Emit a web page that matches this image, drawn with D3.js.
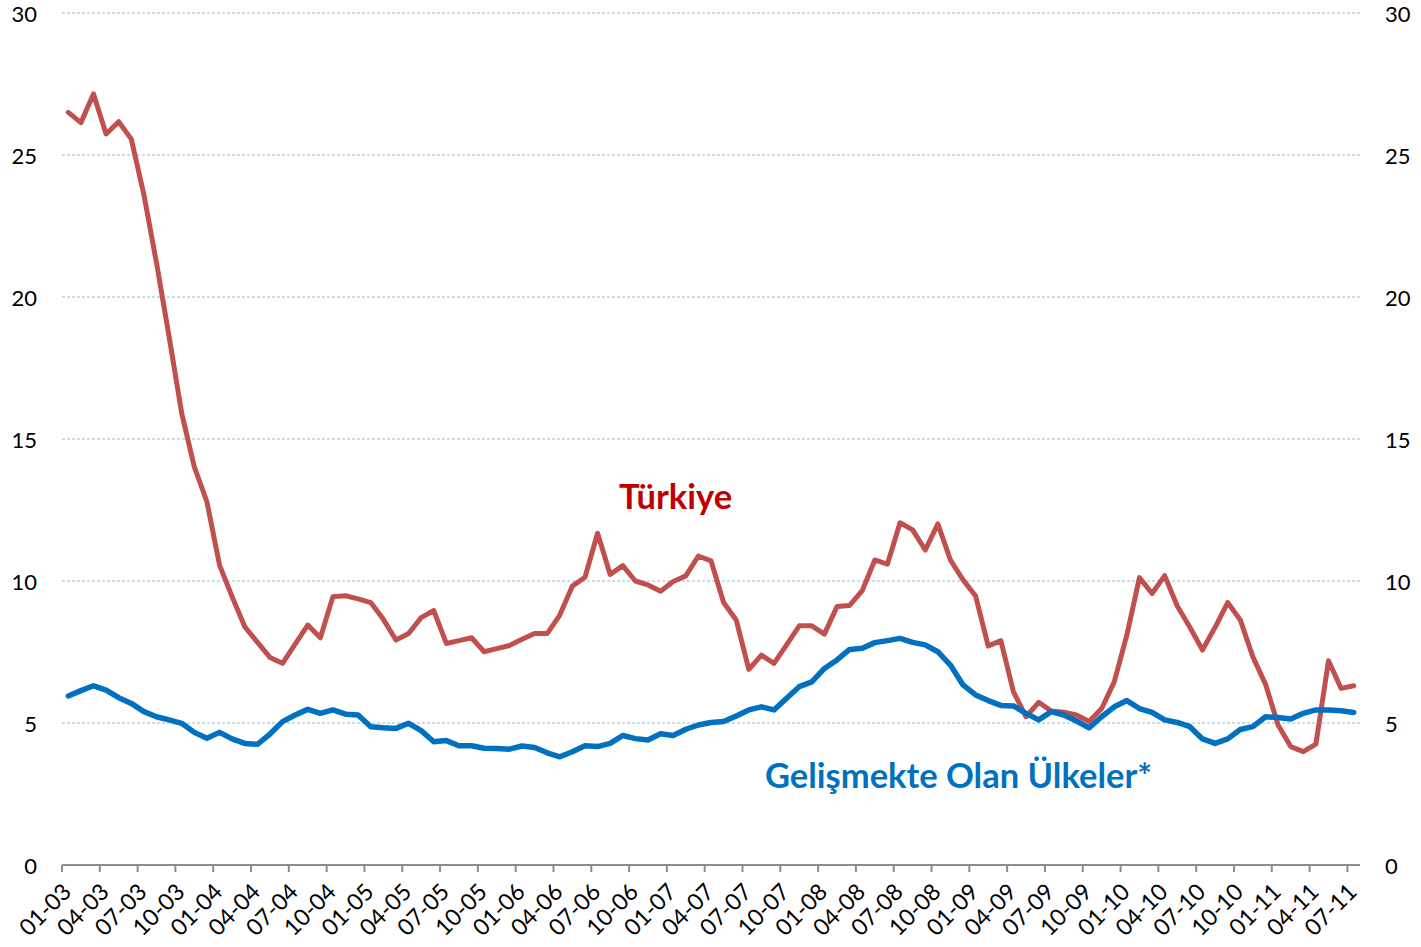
<!DOCTYPE html>
<html>
<head>
<meta charset="utf-8">
<script src="https://cdn.jsdelivr.net/npm/d3@7"></script>
<style>
  body { margin: 0; background: #fff; }
  svg { display: block; }
  text { font-family: Lato, "Open Sans", sans-serif; }
</style>
</head>
<body>
<svg id="chart" width="1421" height="947"></svg>
<script>
// monthly series, 01-03 .. 07-11 (103 months)
const turkiye = [
  26.5, 26.14, 27.15, 25.74, 26.17, 25.56, 23.6, 21.2, 18.6, 15.9, 14.02, 12.79,
  10.56, 9.45, 8.39, 7.85, 7.31, 7.1, 7.78, 8.45, 8.0, 9.45, 9.48, 9.37,
  9.24, 8.65, 7.92, 8.15, 8.71, 8.96, 7.8, 7.9, 8.0, 7.51, 7.62, 7.73,
  7.95, 8.15, 8.15, 8.8, 9.82, 10.13, 11.68, 10.23, 10.54, 10.0, 9.86, 9.64,
  9.98, 10.18, 10.88, 10.71, 9.24, 8.63, 6.89, 7.39, 7.1, 7.75, 8.42, 8.42,
  8.13, 9.1, 9.14, 9.66, 10.74, 10.59, 12.05, 11.8, 11.09, 12.01, 10.74, 10.04,
  9.47, 7.71, 7.9, 6.1, 5.22, 5.73, 5.42, 5.38, 5.28, 5.05, 5.51, 6.45,
  8.1, 10.12, 9.56, 10.19, 9.12, 8.37, 7.57, 8.37, 9.24, 8.63, 7.33, 6.37,
  4.93, 4.17, 3.99, 4.26, 7.19, 6.22, 6.31
];
const gelismekte = [
  5.95, 6.14, 6.31, 6.16, 5.89, 5.69, 5.4, 5.22, 5.11, 4.99, 4.67, 4.46,
  4.67, 4.44, 4.28, 4.25, 4.61, 5.05, 5.28, 5.48, 5.34, 5.46, 5.31, 5.28,
  4.87, 4.83, 4.81, 4.99, 4.73, 4.34, 4.38, 4.2, 4.2, 4.11, 4.1, 4.08,
  4.19, 4.14, 3.95, 3.81, 3.99, 4.2, 4.17, 4.28, 4.56, 4.45, 4.4, 4.62,
  4.56, 4.78, 4.93, 5.02, 5.05, 5.25, 5.46, 5.57, 5.46, 5.87, 6.28, 6.45,
  6.92, 7.22, 7.59, 7.63, 7.83, 7.9, 7.98, 7.84, 7.75, 7.51, 7.04, 6.34,
  5.99, 5.79, 5.62, 5.6, 5.34, 5.11, 5.4, 5.28, 5.07, 4.83, 5.22, 5.57,
  5.79, 5.51, 5.37, 5.11, 5.02, 4.87, 4.44, 4.28, 4.44, 4.77, 4.87, 5.22,
  5.19, 5.14, 5.34, 5.46, 5.46, 5.43, 5.37
];
const yTicks = [0, 5, 10, 15, 20, 25, 30];
const labelStep = 3; // a label every quarter

// category labels "MM-YY"
const months = [];
for (let yr = 3; yr <= 11; yr++)
  for (let m = 1; m <= 12; m++)
    months.push(String(m).padStart(2, "0") + "-" + String(yr).padStart(2, "0"));
const cats = months.slice(0, turkiye.length);

const svg = d3.select("#chart");
const plotL = 62, plotR = 1360, plotT = 13, plotB = 865;

const x = d3.scaleBand().domain(cats).range([plotL, plotR]).padding(0);
const y = d3.scaleLinear().domain([0, 30]).range([plotB, plotT]);
const cx = d => x(d) + x.bandwidth() / 2;

// gridlines
svg.append("g")
  .selectAll("line")
  .data(yTicks.filter(t => t > 0))
  .join("line")
  .attr("x1", plotL).attr("x2", plotR)
  .attr("y1", d => y(d)).attr("y2", d => y(d))
  .attr("stroke", "#9ab6d8")
  .attr("stroke-width", 1)
  .attr("stroke-dasharray", "3,2");

// y labels both sides
svg.append("g")
  .selectAll("text")
  .data(yTicks)
  .join("text")
  .attr("x", 37).attr("y", d => y(d) + 8.5)
  .attr("text-anchor", "end")
  .attr("font-size", 22)
  .attr("fill", "#000")
  .text(d => d);
svg.append("g")
  .selectAll("text")
  .data(yTicks)
  .join("text")
  .attr("x", 1385).attr("y", d => y(d) + 8.5)
  .attr("text-anchor", "start")
  .attr("font-size", 22)
  .attr("fill", "#000")
  .text(d => d);

// x axis
const xa = svg.append("g");
xa.append("line")
  .attr("x1", plotL).attr("x2", plotR)
  .attr("y1", plotB).attr("y2", plotB)
  .attr("stroke", "#8c8c8c").attr("stroke-width", 2);
const tickCats = cats.filter((c, i) => i % labelStep === 0);
xa.selectAll("line.tk")
  .data(tickCats)
  .join("line")
  .attr("class", "tk")
  .attr("x1", d => x(d)).attr("x2", d => x(d))
  .attr("y1", plotB).attr("y2", plotB + 7)
  .attr("stroke", "#8c8c8c").attr("stroke-width", 2);
xa.selectAll("text")
  .data(tickCats)
  .join("text")
  .attr("transform", d => `translate(${cx(d) - 7},${plotB + 17}) rotate(-45)`)
  .attr("text-anchor", "end")
  .attr("dy", "0.7em")
  .attr("font-size", 23)
  .attr("fill", "#000")
  .text(d => d);

// lines
const line = d3.line()
  .x((d, i) => cx(cats[i]))
  .y(d => y(d));

svg.append("path")
  .datum(turkiye)
  .attr("fill", "none")
  .attr("stroke", "#c0504d")
  .attr("stroke-width", 5)
  .attr("stroke-linejoin", "round")
  .attr("stroke-linecap", "round")
  .attr("d", line);

svg.append("path")
  .datum(gelismekte)
  .attr("fill", "none")
  .attr("stroke", "#0070c0")
  .attr("stroke-width", 5.5)
  .attr("stroke-linejoin", "round")
  .attr("stroke-linecap", "round")
  .attr("d", line);

// series names
svg.append("text")
  .attr("x", 619).attr("y", 509)
  .attr("font-size", 34.5)
  .attr("font-weight", "bold")
  .attr("fill", "#c00000")
  .text("Türkiye");
svg.append("text")
  .attr("x", 765).attr("y", 788)
  .attr("font-size", 34.5)
  .attr("font-weight", "bold")
  .attr("fill", "#0070c0")
  .text("Gelişmekte Olan Ülkeler*");
</script>
</body>
</html>
